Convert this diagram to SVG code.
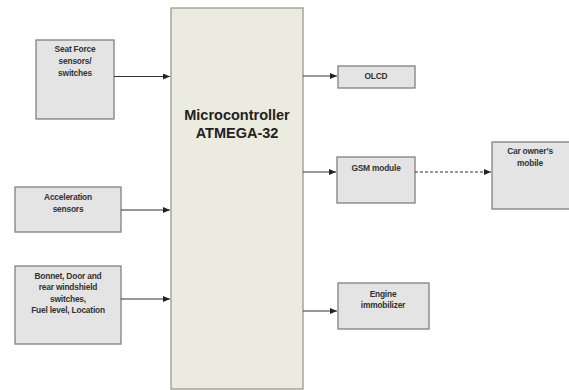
<svg xmlns="http://www.w3.org/2000/svg" width="569" height="390" viewBox="0 0 569 390">
<defs>
<style>
.box{fill:#e4e4e4;stroke:#808080;stroke-width:1.3}
.mc{fill:#ecebe0;stroke:#9a9a90;stroke-width:1.3}
.t{font-family:"Liberation Sans",Arial,sans-serif;font-weight:bold;font-size:8.4px;letter-spacing:-0.2px;fill:#333;text-anchor:middle}
.big{font-family:"Liberation Sans",Arial,sans-serif;font-weight:bold;font-size:14.5px;fill:#222;text-anchor:middle}
.c{stroke:#333;stroke-width:1.2;fill:none}
.d{stroke:#333;stroke-width:1;fill:none;stroke-dasharray:3 2}
</style>
<marker id="ah" markerWidth="8" markerHeight="6" refX="7" refY="3" orient="auto" markerUnits="userSpaceOnUse">
<path d="M0,0 L7,3 L0,6 z" fill="#222"/>
</marker>
</defs>
<rect width="569" height="390" fill="#fff"/>
<g id="microcontroller">
<rect class="mc" x="171" y="8" width="132" height="381"/>
<text class="big" x="237" y="120">Microcontroller</text>
<text class="big" x="237" y="138">ATMEGA-32</text>
</g>
<g id="seat-force">
<rect class="box" x="36" y="40" width="78" height="79"/>
<text class="t" x="75" y="52">Seat Force</text>
<text class="t" x="75" y="64">sensors/</text>
<text class="t" x="75" y="76">switches</text>
</g>
<g id="acceleration">
<rect class="box" x="15" y="187" width="106" height="45"/>
<text class="t" x="68" y="200">Acceleration</text>
<text class="t" x="68" y="212">sensors</text>
</g>
<g id="bonnet">
<rect class="box" x="15" y="266" width="106" height="78"/>
<text class="t" x="68" y="279">Bonnet, Door and</text>
<text class="t" x="68" y="290">rear windshield</text>
<text class="t" x="68" y="302">switches,</text>
<text class="t" x="68" y="313">Fuel level, Location</text>
</g>
<g id="olcd">
<rect class="box" x="338" y="66" width="77" height="22"/>
<text class="t" x="376" y="79">OLCD</text>
</g>
<g id="gsm">
<rect class="box" x="337" y="157" width="78" height="46"/>
<text class="t" x="376" y="171">GSM module</text>
</g>
<g id="mobile">
<rect class="box" x="492" y="142" width="78" height="67"/>
<text class="t" x="530" y="154">Car owner’s</text>
<text class="t" x="530" y="166">mobile</text>
</g>
<g id="engine">
<rect class="box" x="338" y="283" width="91" height="46"/>
<text class="t" x="383" y="297">Engine</text>
<text class="t" x="383" y="308">immobilizer</text>
</g>
<g id="connectors">
<line class="c" x1="114" y1="76.5" x2="170" y2="76.5" marker-end="url(#ah)"/>
<line class="c" x1="121" y1="210" x2="170" y2="210" marker-end="url(#ah)"/>
<line class="c" x1="121" y1="299" x2="170" y2="299" marker-end="url(#ah)"/>
<line class="c" x1="303" y1="76" x2="337" y2="76" marker-end="url(#ah)"/>
<line class="c" x1="303" y1="172" x2="336" y2="172" marker-end="url(#ah)"/>
<line class="c" x1="303" y1="311" x2="337" y2="311" marker-end="url(#ah)"/>
<line class="d" x1="415" y1="172" x2="491" y2="172" marker-end="url(#ah)"/>
</g>
</svg>
